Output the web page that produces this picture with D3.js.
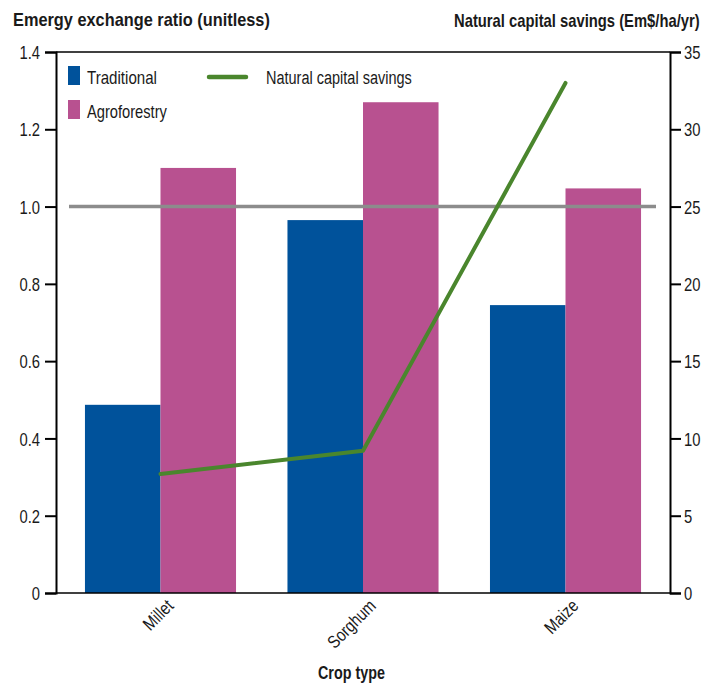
<!DOCTYPE html>
<html>
<head>
<meta charset="utf-8">
<script src="https://cdn.jsdelivr.net/npm/d3@7/dist/d3.min.js"></script>
<style>
  html, body { margin: 0; padding: 0; background: #fff; }
  svg { display: block; }
  text { font-family: "Liberation Sans", Arial, sans-serif; fill: #1a1a1a; }
  .title { font-weight: bold; font-size: 17.5px; }
</style>
</head>
<body>
<script>
// Crop types and their emergy exchange ratios
const crops = ["Millet", "Sorghum", "Maize"];
const traditional = [0.487, 0.965, 0.745];
const agroforestry = [1.10, 1.27, 1.047];
// Natural capital savings (Em$/ha/yr)
const savings = [7.7, 9.2, 33.0];
const leftTicks = [0, 0.2, 0.4, 0.6, 0.8, 1.0, 1.2, 1.4];
const rightTicks = [0, 5, 10, 15, 20, 25, 30, 35];
const reference = 1.0;

const W = 715, H = 684;
const x0 = 56, x1 = 670, yTop = 52, yBot = 593;
const FONT = "'Liberation Sans', Arial, sans-serif";

const svg = d3.select("body").append("svg").attr("width", W).attr("height", H);

// Squeeze text horizontally to get a condensed face
function condense(sel, factor) {
  sel.each(function () {
    const w = this.getComputedTextLength();
    d3.select(this).attr("textLength", w * factor).attr("lengthAdjust", "spacingAndGlyphs");
  });
}
// Text placed at (x, y) and scaled horizontally to a given width
function label(parent, x, y, str, width, cls, size) {
  const g = parent.append("g").attr("transform", `translate(${x},${y})`);
  const t = g.append("text").attr("x", 0).attr("y", 0).text(str);
  if (cls) t.attr("class", cls);
  if (size) t.attr("font-size", size);
  const w = t.node().getComputedTextLength();
  t.attr("transform", `scale(${width / w},1)`);
  return t;
}

const x = d3.scaleBand().domain(crops).range([x0, x1]).paddingInner(0.254).paddingOuter(0.143);
const xs = d3.scaleBand().domain(["t", "a"]).range([0, x.bandwidth()]);
const yL = d3.scaleLinear().domain([0, 1.4]).range([yBot, yTop]);
const yR = d3.scaleLinear().domain([0, 35]).range([yBot, yTop]);

const colors = { t: "#00529b", a: "#b85190" };

// Bars
const groups = svg.append("g").selectAll("g").data(crops).join("g")
  .attr("transform", d => `translate(${x(d)},0)`);
groups.append("rect")
  .attr("x", xs("t")).attr("width", xs.bandwidth())
  .attr("y", (d, i) => yL(traditional[i])).attr("height", (d, i) => yBot - yL(traditional[i]))
  .attr("fill", colors.t);
groups.append("rect")
  .attr("x", xs("a")).attr("width", xs.bandwidth())
  .attr("y", (d, i) => yL(agroforestry[i])).attr("height", (d, i) => yBot - yL(agroforestry[i]))
  .attr("fill", colors.a);

// Ratio = 1 reference line
svg.append("line")
  .attr("x1", 69).attr("x2", 656)
  .attr("y1", yL(reference)).attr("y2", yL(reference))
  .attr("stroke", "#8c8c8c").attr("stroke-width", 3.5);

// Natural capital savings line
const line = d3.line().x((d, i) => x(crops[i]) + x.bandwidth() / 2).y(d => yR(d));
svg.append("path").datum(savings)
  .attr("d", line).attr("fill", "none")
  .attr("stroke", "#4a862d").attr("stroke-width", 4).attr("stroke-linecap", "round").attr("stroke-linejoin", "round");

// Frame
svg.append("line").attr("x1", x0).attr("x2", x1).attr("y1", yTop).attr("y2", yTop).attr("stroke", "#000").attr("stroke-width", 1.5);
svg.append("line").attr("x1", x0).attr("x2", x1).attr("y1", yBot).attr("y2", yBot).attr("stroke", "#000").attr("stroke-width", 1.5);

// Axes
const fmtL = d => d === 0 ? "0" : d3.format(".1f")(d);
const axL = svg.append("g").attr("transform", `translate(${x0},0)`)
  .call(d3.axisLeft(yL).tickValues(leftTicks).tickFormat(fmtL).tickSize(11).tickPadding(5));
const axR = svg.append("g").attr("transform", `translate(${x1},0)`)
  .call(d3.axisRight(yR).tickValues(rightTicks).tickSize(11).tickPadding(3));
[axL, axR].forEach(a => {
  a.select(".domain").attr("stroke", "#000").attr("stroke-width", 2);
  a.selectAll(".tick line").attr("stroke", "#000").attr("stroke-width", 2);
  a.selectAll(".tick text").attr("font-size", 18.5).attr("fill", "#1a1a1a").attr("font-family", FONT)
    .attr("dy", "0.36em").call(condense, 0.8);
});

// Category labels
const axX = svg.append("g").attr("transform", `translate(0,${yBot})`)
  .call(d3.axisBottom(x).tickSize(0).tickPadding(0));
axX.select(".domain").remove();
axX.selectAll(".tick text")
  .attr("font-size", 18).attr("fill", "#1a1a1a").attr("font-family", FONT)
  .attr("text-anchor", "end").attr("dy", null)
  .attr("transform", "translate(5,5) rotate(-45)")
  .attr("y", 0).attr("x", 0).attr("dominant-baseline", "hanging")
  .call(condense, 0.82);

// Titles
label(svg, 13, 26, "Emergy exchange ratio (unitless)", 257, "title");
label(svg, 454, 26.5, "Natural capital savings (Em$/ha/yr)", 246, "title");
label(svg, 318, 679, "Crop type", 67, "title");

// Legend
const leg = svg.append("g");
leg.append("rect").attr("x", 68).attr("y", 66).attr("width", 12).attr("height", 19).attr("fill", colors.t);
label(leg, 87, 84, "Traditional", 70, null, 18);
leg.append("rect").attr("x", 68).attr("y", 100).attr("width", 12).attr("height", 19).attr("fill", colors.a);
label(leg, 87, 118, "Agroforestry", 80, null, 18);
leg.append("line").attr("x1", 209).attr("x2", 246).attr("y1", 77).attr("y2", 77)
  .attr("stroke", "#4a862d").attr("stroke-width", 4.5).attr("stroke-linecap", "round");
label(leg, 266, 84, "Natural capital savings", 146, null, 18);
</script>
</body>
</html>
